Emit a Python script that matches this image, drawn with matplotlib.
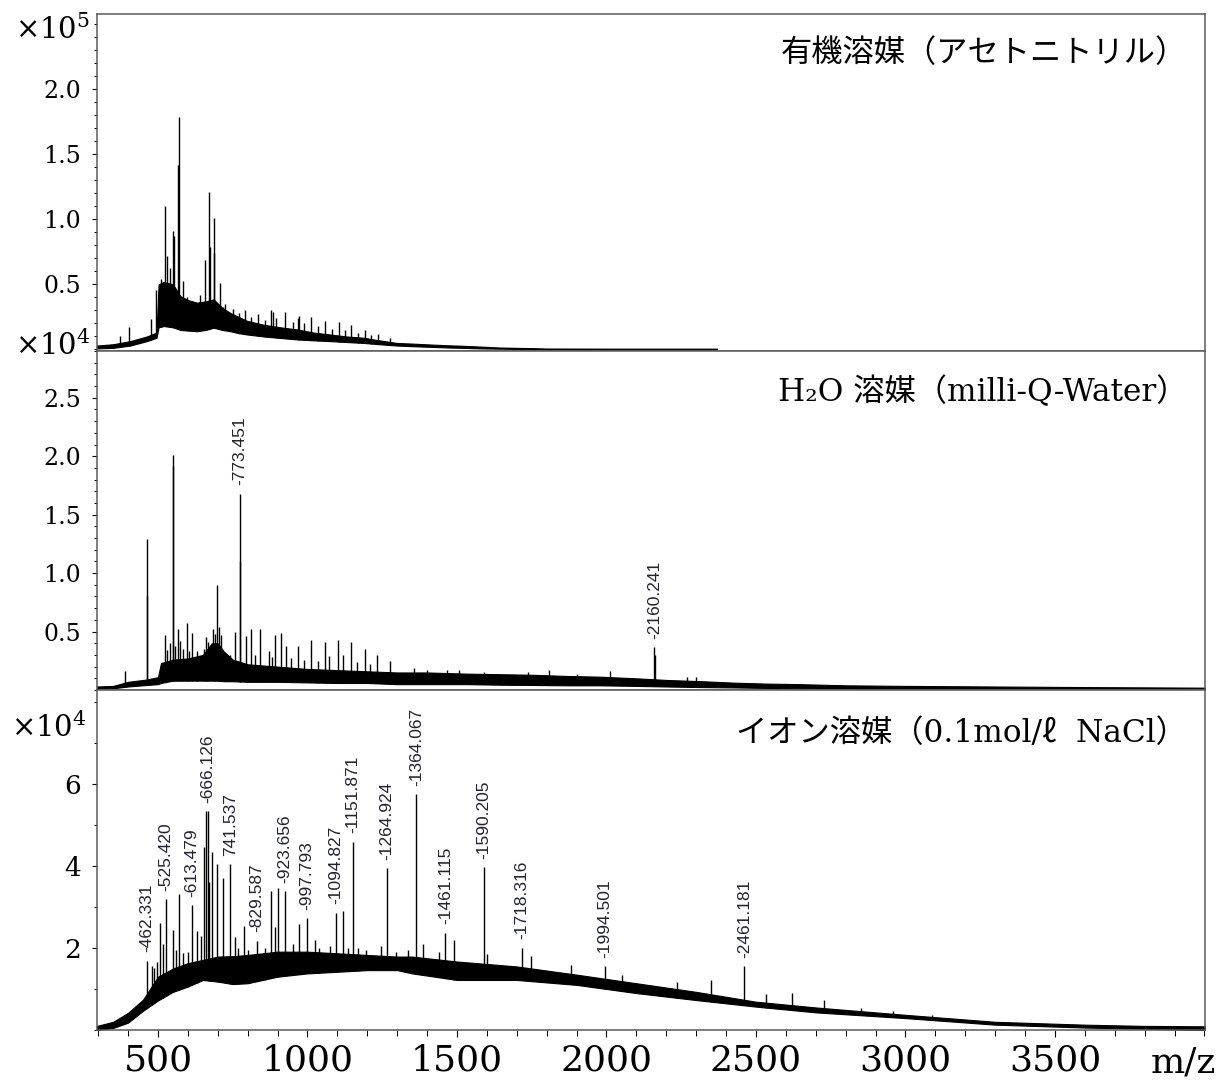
import numpy as np
import matplotlib
matplotlib.use('Agg')
from matplotlib import pyplot as plt
from matplotlib.ticker import MultipleLocator, FixedLocator

plt.rcParams['font.family'] = ['DejaVu Serif', 'Noto Sans CJK JP']
plt.rcParams['mathtext.fontset'] = 'dejavuserif'

MZ_MIN, MZ_MAX = 296, 4002

# --- acetonitrile (intensity x1e5) ---
acn_mz = [296, 350, 407, 463, 495, 502, 519, 550, 575, 600, 630, 660, 686, 715, 742,
          770, 798, 853, 910, 965, 1020, 1076, 1130, 1188, 1240, 1299, 1350, 1411, 1470,
          1522, 1578, 1640, 1700, 1757, 1800, 2000, 2200, 2370]
acn_lo = [0.008, 0.012, 0.03, 0.064, 0.09, 0.17, 0.18, 0.17, 0.15, 0.145, 0.14, 0.15, 0.167,
          0.15, 0.14, 0.125, 0.115, 0.10, 0.088, 0.077, 0.07, 0.064, 0.057, 0.05, 0.04, 0.03,
          0.025, 0.02, 0.015, 0.012, 0.008, 0.006, 0.004, 0.003, 0.0, 0.0, 0.0, 0.0]
acn_hi = [0.03, 0.04, 0.064, 0.10, 0.13, 0.50, 0.52, 0.50, 0.41, 0.38, 0.36, 0.37, 0.385,
          0.32, 0.28, 0.25, 0.22, 0.19, 0.17, 0.154, 0.13, 0.115, 0.10, 0.09, 0.07, 0.05,
          0.045, 0.038, 0.032, 0.028, 0.022, 0.015, 0.012, 0.01, 0.007, 0.006, 0.006, 0.006]
acn_peak_mz = [372, 404, 478, 493, 510, 525, 529, 540, 551, 555, 566, 569, 582, 596, 620,
               640, 658, 671, 673, 686, 688, 706, 716, 725, 751, 770, 792, 812, 835, 858,
               879, 886, 895, 926, 950, 968, 970, 990, 1013, 1036, 1060, 1082, 1104, 1125,
               1147, 1170, 1191, 1213, 1236, 1277]
acn_peak_int = [0.10, 0.17, 0.236, 0.46, 0.54, 1.10, 0.72, 0.63, 0.91, 0.87, 1.42, 1.79, 0.53,
                0.40, 0.36, 0.42, 0.69, 1.21, 0.79, 1.01, 0.74, 0.51, 0.33, 0.35, 0.31, 0.28,
                0.30, 0.25, 0.27, 0.23, 0.30, 0.29, 0.24, 0.29, 0.21, 0.24, 0.26, 0.20, 0.25,
                0.18, 0.22, 0.16, 0.21, 0.15, 0.19, 0.13, 0.15, 0.11, 0.12, 0.085]
acn_tail_mz = [2423, 2450, 2480, 2524, 2560, 2590, 2654, 2681, 2714, 2748, 2838]

# --- milli-Q water (intensity x1e4) ---
h2o_mz = [296, 350, 400, 463, 500, 510, 550, 600, 650, 680, 700, 720, 750, 800, 850, 900,
          1000, 1100, 1200, 1300, 1400, 1532, 1650, 1755, 1870, 1978, 2100, 2201, 2320, 2424,
          2530, 2647, 2800, 3000, 3300, 3600, 4002]
h2o_lo = [0.012, 0.015, 0.03, 0.043, 0.05, 0.06, 0.08, 0.08, 0.08, 0.08, 0.08, 0.075, 0.075,
          0.07, 0.07, 0.07, 0.065, 0.06, 0.06, 0.05, 0.05, 0.05, 0.045, 0.043, 0.04, 0.04,
          0.035, 0.03, 0.025, 0.022, 0.018, 0.014, 0.012, 0.01, 0.01, 0.008, 0.008]
h2o_hi = [0.03, 0.035, 0.07, 0.09, 0.11, 0.23, 0.26, 0.27, 0.30, 0.40, 0.40, 0.33, 0.26,
          0.22, 0.21, 0.20, 0.18, 0.17, 0.16, 0.15, 0.15, 0.14, 0.135, 0.13, 0.12, 0.114,
          0.10, 0.086, 0.075, 0.063, 0.055, 0.05, 0.04, 0.035, 0.03, 0.025, 0.02]
h2o_peak_mz = [389, 462, 463.5, 522, 531, 540, 549, 550.5, 558, 567, 575, 585, 597, 605, 613,
               630, 653, 660, 668, 683, 690, 697, 703, 712, 740, 756, 773.451, 775, 794, 811,
               825, 842, 870, 880, 893, 911, 927, 945, 969, 990, 1013, 1035, 1057, 1073, 1102,
               1119, 1145, 1165, 1191, 1210, 1232, 1277, 1355, 1400, 1467, 1508, 1590, 1738,
               1808, 1900, 2011, 2160.241, 2162, 2268, 2301]
h2o_peak_int = [0.16, 1.29, 0.80, 0.47, 0.34, 0.40, 2.01, 1.92, 0.38, 0.52, 0.42, 0.35, 0.57,
                0.33, 0.49, 0.33, 0.35, 0.45, 0.41, 0.52, 0.48, 0.90, 0.54, 0.47, 0.30, 0.50,
                1.68, 1.10, 0.46, 0.52, 0.30, 0.52, 0.33, 0.28, 0.47, 0.49, 0.38, 0.27, 0.38,
                0.26, 0.43, 0.25, 0.41, 0.29, 0.43, 0.30, 0.41, 0.24, 0.35, 0.22, 0.30, 0.25,
                0.19, 0.17, 0.17, 0.17, 0.15, 0.15, 0.17, 0.14, 0.16, 0.366, 0.30, 0.11, 0.114]
h2o_labels = ['773.451', '2160.241']

# --- 0.1 mol/l NaCl (intensity x1e4) ---
nacl_mz = [296, 350, 400, 450, 500, 550, 600, 650, 700, 750, 800, 900, 1000, 1100, 1200,
           1300, 1350, 1500, 1700, 1900, 2100, 2300, 2500, 2700, 3000, 3300, 3600, 3800, 4002]
nacl_lo = [0.0, 0.05, 0.18, 0.47, 0.72, 0.93, 1.06, 1.22, 1.18, 1.12, 1.14, 1.30, 1.38, 1.42,
           1.46, 1.46, 1.38, 1.22, 1.22, 1.10, 0.90, 0.73, 0.57, 0.43, 0.29, 0.13, 0.06, 0.03, 0.0]
nacl_hi = [0.10, 0.20, 0.42, 0.74, 1.30, 1.50, 1.63, 1.71, 1.79, 1.80, 1.83, 1.91, 1.91, 1.87,
           1.83, 1.79, 1.79, 1.67, 1.55, 1.35, 1.14, 0.93, 0.69, 0.55, 0.37, 0.20, 0.13, 0.10, 0.09]
nacl_label_mz = [462.331, 525.420, 613.479, 666.126, 741.537, 829.587, 923.656, 997.793,
                 1094.827, 1151.871, 1264.924, 1364.067, 1461.115, 1590.205, 1718.316,
                 1994.501, 2461.181]
nacl_label_int = [1.69, 3.19, 3.05, 5.33, 4.05, 2.18, 3.38, 2.73, 2.86, 4.59, 3.94, 5.75,
                  2.37, 3.97, 2.01, 1.56, 1.55]
nacl_label_txt = ['-462.331', '-525.420', '-613.479', '-666.126', '741.537', '-829.587',
                  '-923.656', '-997.793', '-1094.827', '-1151.871', '-1264.924', '-1364.067',
                  '-1461.115', '-1590.205', '-1718.316', '-1994.501', '-2461.181']
nacl_peak_mz = [479, 487, 496, 507, 517, 549, 560, 570, 584, 600, 629, 645, 655, 661, 671,
                682, 697, 717, 758, 767, 788, 800, 857, 877, 893, 902, 953, 971, 1024, 1040,
                1075, 1120, 1136, 1170, 1196, 1245, 1296, 1335, 1386, 1440, 1491, 1600, 1748,
                1882, 2052, 2235, 2350, 2532, 2619, 2727, 2850, 2960, 3090]
nacl_peak_int = [1.56, 1.50, 1.66, 2.60, 2.10, 2.44, 1.95, 3.32, 1.87, 1.90, 2.42, 2.30, 4.46,
                 5.33, 3.60, 4.35, 4.05, 3.70, 2.26, 2.00, 2.54, 1.95, 2.00, 3.40, 2.50, 3.46,
                 2.10, 2.58, 2.20, 2.00, 2.05, 2.90, 2.00, 2.00, 1.95, 2.05, 1.90, 1.95, 2.10,
                 1.90, 2.19, 1.85, 1.80, 1.58, 1.35, 1.18, 1.23, 0.88, 0.91, 0.73, 0.54, 0.46,
                 0.37]

titles = ['有機溶媒（アセトニトリル）', 'H₂O 溶媒（milli-Q-Water）', 'イオン溶媒（0.1mol/ℓ  NaCl）']
x_ticks = [500, 1000, 1500, 2000, 2500, 3000, 3500]

LABEL_COLOR = '#222233'
SPINE = '#5a5a5a'


def draw_spectrum(ax, mz, lo, hi, pk_mz, pk_int):
    ax.fill_between(mz, lo, hi, color='black', lw=0.8, edgecolor='black')
    base = np.interp(pk_mz, mz, lo)
    ax.vlines(pk_mz, base, pk_int, color='black', lw=1.0)


def label_peaks(ax, pk_mz, pk_int, texts):
    for m, h, t in zip(pk_mz, pk_int, texts):
        ax.annotate(t, (m, h), xytext=(0, 6), textcoords='offset points',
                    rotation=90, ha='center', va='bottom', fontsize=12.5,
                    family='Liberation Sans', color=LABEL_COLOR)


def style_axes(ax, ylim, major, minor, label_size):
    ax.set_xlim(MZ_MIN, MZ_MAX)
    ax.set_ylim(*ylim)
    ax.yaxis.set_major_locator(FixedLocator(major))
    ax.yaxis.set_minor_locator(MultipleLocator(minor))
    ax.tick_params(axis='y', which='major', direction='out', length=3.5, width=0.8,
                   labelsize=label_size, pad=8, colors='black')
    ax.tick_params(axis='y', which='minor', direction='out', length=2.5, width=0.7)
    for s in ax.spines.values():
        s.set_color(SPINE)
        s.set_linewidth(1.1)


fig = plt.figure(figsize=(12.24, 10.83), dpi=100)
W, H = 1224, 1083
left, right = 97 / W, 1205 / W
ax_top = fig.add_axes([left, 1 - 351 / H, right - left, 337 / H])
ax_mid = fig.add_axes([left, 1 - 690 / H, right - left, 339 / H])
ax_bot = fig.add_axes([left, 1 - 1030 / H, right - left, 340 / H])

# top panel
draw_spectrum(ax_top, acn_mz, acn_lo, acn_hi, acn_peak_mz, acn_peak_int)
ax_top.vlines(acn_tail_mz, 0, 0.006, color='black', lw=0.8)
style_axes(ax_top, (-0.012, 2.58), [0.5, 1.0, 1.5, 2.0], 0.1, 17)
ax_top.yaxis.set_major_formatter(lambda v, p: f'{v:.1f}')

# middle panel
draw_spectrum(ax_mid, h2o_mz, h2o_lo, h2o_hi, h2o_peak_mz, h2o_peak_int)
lab_mz = [float(t) for t in h2o_labels]
lab_int = [h2o_peak_int[h2o_peak_mz.index(m)] for m in lab_mz]
label_peaks(ax_mid, lab_mz, lab_int, ['-' + t for t in h2o_labels])
style_axes(ax_mid, (0, 2.90), [0.5, 1.0, 1.5, 2.0, 2.5], 0.1, 17)
ax_mid.yaxis.set_major_formatter(lambda v, p: f'{v:.1f}')

# bottom panel
draw_spectrum(ax_bot, nacl_mz, nacl_lo, nacl_hi,
              nacl_peak_mz + nacl_label_mz, nacl_peak_int + nacl_label_int)
label_peaks(ax_bot, nacl_label_mz, nacl_label_int, nacl_label_txt)
style_axes(ax_bot, (0, 8.29), [2, 4, 6], 1, 19)
ax_bot.yaxis.set_major_formatter(lambda v, p: f'{v:.0f}')

for ax in (ax_top, ax_mid):
    ax.tick_params(axis='x', which='both', bottom=False, labelbottom=False)

ax_bot.xaxis.set_major_locator(FixedLocator(x_ticks))
ax_bot.xaxis.set_minor_locator(MultipleLocator(100))
ax_bot.tick_params(axis='x', which='major', direction='out', length=5, width=0.8,
                   labelsize=26, pad=5)
ax_bot.tick_params(axis='x', which='minor', direction='out', length=4, width=0.7)
fig.text(1183 / W, 1 - 1063 / H, 'm/z', fontsize=26, ha='center', va='center')

# panel titles
title_y = [0.884, 0.879, 0.873]
for ax, t, ty in zip((ax_top, ax_mid, ax_bot), titles, title_y):
    ax.text(0.984, ty, t, transform=ax.transAxes, ha='right', va='center', fontsize=22.5)

# intensity multipliers
fig.text(53 / W, 1 - 30 / H, r'$\times10^{5}$', fontsize=21, ha='center', va='center')
fig.text(53 / W, 1 - 346 / H, r'$\times10^{4}$', fontsize=21, ha='center', va='center')
fig.text(49 / W, 1 - 728 / H, r'$\times10^{4}$', fontsize=21, ha='center', va='center')

fig.savefig('out.png', dpi=100, facecolor='white')
